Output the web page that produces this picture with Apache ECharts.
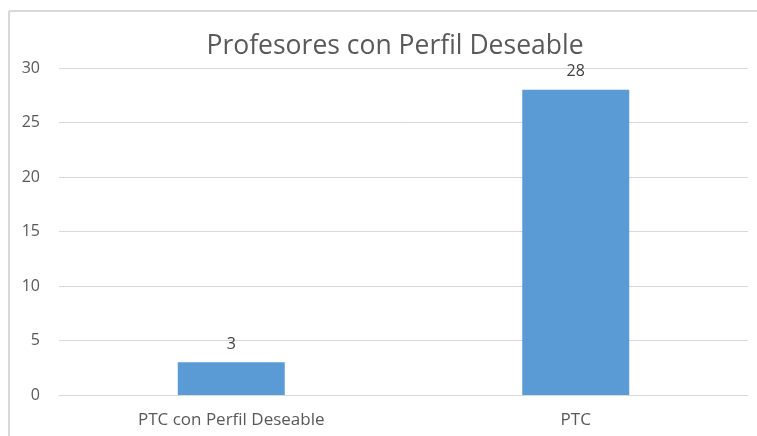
<!DOCTYPE html>
<html>
<head>
<meta charset="utf-8">
<script src="https://cdn.jsdelivr.net/npm/echarts@6/dist/echarts.min.js"></script>
<style>
  html, body { margin: 0; padding: 0; background: #fff; }
  #main { width: 757px; height: 436px; }
</style>
</head>
<body>
<div id="main"></div>
<script>
// datos del grafico
var categorias = ['PTC con Perfil Deseable', 'PTC'];
var valores = [3, 28];
var titulo = 'Profesores con Perfil Deseable';

var myChart = echarts.init(document.getElementById('main'));
var option = {
  animation: false,
  backgroundColor: '#fff',
  textStyle: { fontFamily: 'Open Sans' },
  title: {
    text: titulo,
    left: 390,
    top: 28,
    textAlign: 'center',
    textStyle: { fontSize: 26.5, fontWeight: 'normal', color: '#595959', fontFamily: 'Open Sans' }
  },
  // borde del area del grafico
  graphic: [
    { type: 'line', shape: { x1: 9, y1: 11, x2: 757, y2: 11 }, style: { stroke: '#d9d9d9', lineWidth: 2 } },
    { type: 'line', shape: { x1: 9, y1: 11, x2: 9, y2: 436 }, style: { stroke: '#d9d9d9', lineWidth: 2 } }
  ],
  grid: { left: 59, right: 9, top: 68, bottom: 41 },
  xAxis: {
    type: 'category',
    data: categorias,
    axisTick: { show: false },
    axisLine: { lineStyle: { color: '#d9d9d9' } },
    axisLabel: { color: '#595959', fontSize: 17, margin: 17 }
  },
  yAxis: {
    type: 'value',
    min: 0,
    max: 30,
    interval: 5,
    axisLabel: { color: '#595959', fontSize: 16, margin: 19 },
    splitLine: { lineStyle: { color: '#d9d9d9' } },
    axisLine: { show: false },
    axisTick: { show: false }
  },
  series: [{
    type: 'bar',
    data: valores,
    barWidth: 107,
    itemStyle: { color: '#5b9bd5' },
    label: { show: true, position: 'top', color: '#404040', fontSize: 16, distance: 10 }
  }]
};
myChart.setOption(option);
</script>
</body>
</html>
